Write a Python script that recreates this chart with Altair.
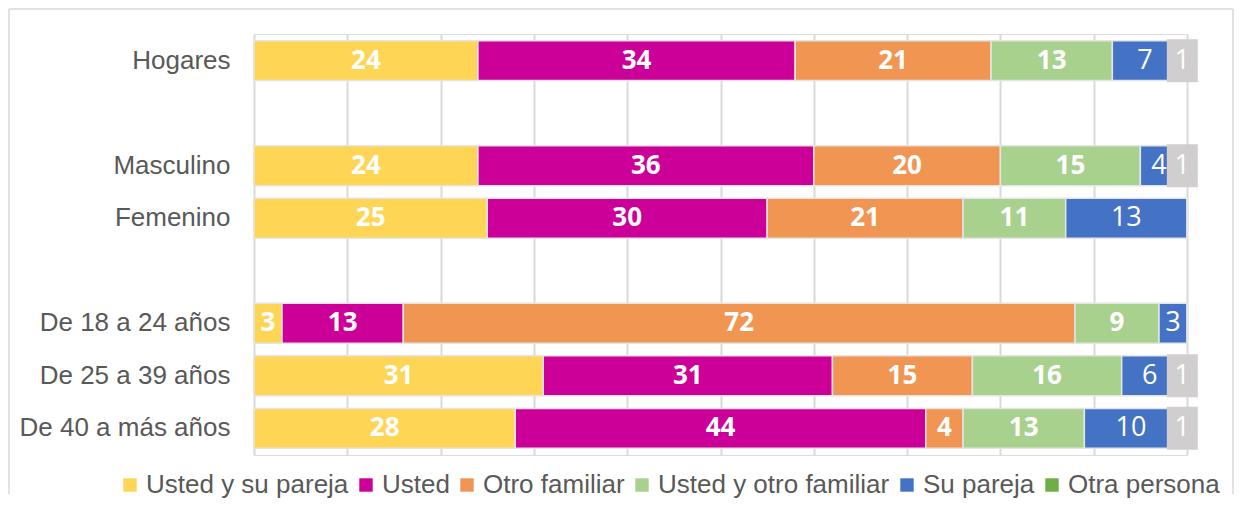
import altair as alt
import pandas as pd

# ---- data ----
categories = ["Hogares", "Masculino", "Femenino",
              "De 18 a 24 años", "De 25 a 39 años", "De 40 a más años"]
row_order = ["Hogares", "_gap1", "Masculino", "Femenino", "_gap2",
             "De 18 a 24 años", "De 25 a 39 años", "De 40 a más años"]
series = ["Usted y su pareja", "Usted", "Otro familiar",
          "Usted y otro familiar", "Su pareja", "Otra persona"]

usted_y_su_pareja = [24, 24, 25, 3, 31, 28]
usted = [34, 36, 30, 13, 31, 44]
otro_familiar = [21, 20, 21, 72, 15, 4]
usted_y_otro_familiar = [13, 15, 11, 9, 16, 13]
su_pareja = [7, 4, 13, 3, 6, 10]
otra_persona = [1, 1, 0, 0, 1, 1]

colors = ["#FFD555", "#CC0099", "#F19553", "#A9D18E", "#4472C4", "#70AD47"]
box_gray = "#D0CECE"
grid_gray = "#D9D9D9"
text_gray = "#595959"

all_values = [usted_y_su_pareja, usted, otro_familiar,
              usted_y_otro_familiar, su_pareja, otra_persona]
rows = []
for si, (s, vals) in enumerate(zip(series, all_values)):
    for c, v in zip(categories, vals):
        rows.append({"cat": c, "serie": s, "value": v, "order": si})
df = pd.DataFrame(rows)

y_enc = alt.Y(
    "cat:N",
    scale=alt.Scale(domain=row_order, paddingInner=0.24, paddingOuter=0.127),
    axis=alt.Axis(
        title=None, ticks=False, domain=False, labelPadding=24,
        labelFont="Liberation Sans", labelFontSize=26, labelColor=text_gray,
        labelLimit=400,
        labelExpr="indexof(datum.label, '_') == 0 ? '' : datum.label",
    ),
)

base = (
    alt.Chart(df)
    .transform_stack(
        stack="value", groupby=["cat"], as_=["v0", "v1"],
        sort=[alt.SortField("order", order="ascending")],
    )
    .transform_calculate(mid="(datum.v0 + datum.v1) / 2")
)

x_scale = alt.Scale(domain=[0, 100], nice=False)

bars = base.mark_bar(stroke="#E4E4E4", strokeWidth=1.5).encode(
    y=y_enc,
    x=alt.X(
        "v0:Q", scale=x_scale,
        axis=alt.Axis(title=None, labels=False, ticks=False, domain=False,
                      grid=True, gridColor=grid_gray, gridWidth=2,
                      values=list(range(0, 101, 10))),
    ),
    x2="v1:Q",
    color=alt.Color(
        "serie:N",
        scale=alt.Scale(domain=series, range=colors),
        legend=alt.Legend(
            title=None, orient="none", legendX=-137, legendY=438,
            direction="horizontal", columns=6, padding=0,
            symbolType="square", symbolSize=180, symbolStrokeWidth=0,
            labelFont="Liberation Sans", labelFontSize=26, labelLimit=500,
            labelColor=text_gray, labelOffset=3, columnPadding=4,
        ),
    ),
)

box = (
    base.transform_filter("datum.serie == 'Otra persona' && datum.value > 0")
    .mark_tick(thickness=31, size=43, color=box_gray, opacity=1)
    .encode(x=alt.X("mid:Q", scale=x_scale), y=alt.Y("cat:N"))
)

bold_labels = (
    base.transform_filter(
        "datum.value > 0 && datum.serie != 'Su pareja' && datum.serie != 'Otra persona'")
    .mark_text(color="white", font="Open Sans", fontSize=26, fontWeight="bold",
               baseline="middle", align="center")
    .encode(x=alt.X("mid:Q", scale=x_scale), y=alt.Y("cat:N"),
            text=alt.Text("value:Q"))
)

plain_labels = (
    base.transform_filter(
        "datum.value > 0 && (datum.serie == 'Su pareja' || datum.serie == 'Otra persona')")
    .mark_text(color="white", font="Open Sans", fontSize=27,
               baseline="middle", align="center")
    .encode(x=alt.X("mid:Q", scale=x_scale), y=alt.Y("cat:N"),
            text=alt.Text("value:Q"))
)

one = pd.DataFrame({"k": [0]})
frame_top = alt.Chart(one).mark_rule(stroke=grid_gray, strokeWidth=1.5).encode(
    x=alt.value(-245), x2=alt.value(979), y=alt.value(-25))
frame_left = alt.Chart(one).mark_rule(stroke=grid_gray, strokeWidth=1.5).encode(
    x=alt.value(-245), y=alt.value(-25), y2=alt.value(460))
frame_right = alt.Chart(one).mark_rule(stroke=grid_gray, strokeWidth=1.5).encode(
    x=alt.value(979), y=alt.value(-25), y2=alt.value(460))

chart = (
    alt.layer(frame_top, frame_left, frame_right, bars, box,
              bold_labels, plain_labels)
    .properties(width=933, height=421,
                padding={"left": 0, "top": 0, "right": 0, "bottom": 0})
    .configure_view(stroke=None)
    .configure(background="white")
)

chart.save("out.html", embed_options={"renderer": "svg", "actions": False})
